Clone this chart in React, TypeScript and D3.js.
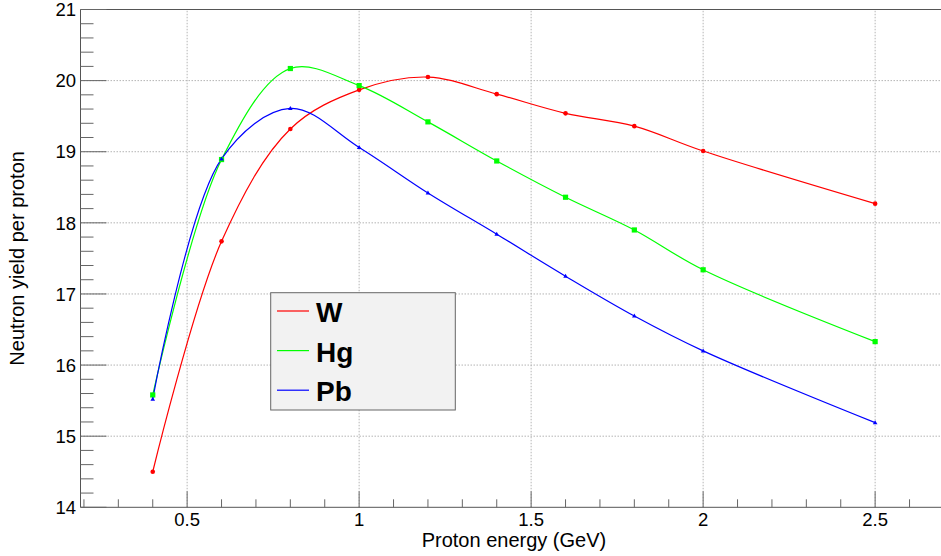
import React from "react";
import * as d3 from "d3";

const energies = [0.4, 0.6, 0.8, 1.0, 1.2, 1.4, 1.6, 1.8, 2.0, 2.5];
const yieldW = [14.5, 17.74, 19.32, 19.87, 20.05, 19.81, 19.54, 19.36, 19.01, 18.27];
const yieldHg = [15.58, 18.89, 20.17, 19.93, 19.42, 18.87, 18.36, 17.9, 17.34, 16.33];
const yieldPb = [15.52, 18.9, 19.61, 19.06, 18.42, 17.84, 17.25, 16.69, 16.2, 15.19];
const seriesNames = ["W", "Hg", "Pb"];
const seriesColors = ["#ff0000", "#00ff00", "#0000ff"];
const xTickLabels = ["0.5", "1", "1.5", "2", "2.5"];
const yTickLabels = ["14", "15", "16", "17", "18", "19", "20", "21"];

const W = 941;
const H = 556;
const left = 80.5;
const top = 9.5;
const bottom = 507.3;
const xDomain: [number, number] = [0.19, 2.71];
const plotRight = left + (xDomain[1] - xDomain[0]) * 344;

export default function App() {
  const x = d3.scaleLinear().domain(xDomain).range([left, plotRight]);
  const y = d3.scaleLinear().domain([14, 21]).range([bottom, top]);
  const series = [yieldW, yieldHg, yieldPb];
  const line = d3
    .line<[number, number]>()
    .x((d) => x(d[0]))
    .y((d) => y(d[1]))
    .curve(d3.curveCatmullRom.alpha(0.5));

  const xMajor = xTickLabels.map(Number);
  const xMinor = d3.range(2, 28).map((i) => i / 10).filter((v) => v >= xDomain[0] && v <= xDomain[1]);
  const yMajor = yTickLabels.map(Number);
  const yMinor = d3.range(70, 106).map((i) => i / 5).filter((v) => v >= 14 && v <= 21);
  const font = "'Liberation Sans', Arial, Helvetica, sans-serif";

  return (
    <svg width={W} height={H} style={{ position: "absolute", left: 0, top: 0 }}>
      <rect x={0} y={0} width={W} height={H} fill="#fff" />
      <g>
        {xMajor.map((v) => (
          <line key={"gx" + v} x1={x(v)} x2={x(v)} y1={bottom} y2={top} stroke="#b4b4b4" strokeDasharray="1.5,1.5" strokeWidth={1} />
        ))}
        {yMajor.filter((v) => v > 14 && v < 21).map((v) => (
          <line key={"gy" + v} x1={left} x2={plotRight} y1={y(v)} y2={y(v)} stroke="#b4b4b4" strokeDasharray="1.5,1.5" strokeWidth={1} />
        ))}
      </g>
      {/* frame */}
      <line x1={left} x2={plotRight} y1={top} y2={top} stroke="#555" strokeWidth={1} />
      <line x1={left} x2={left} y1={top} y2={bottom} stroke="#555" strokeWidth={1} />
      <line x1={left} x2={plotRight} y1={bottom} y2={bottom} stroke="#555" strokeWidth={1} />
      {/* ticks */}
      {xMinor.map((v) => {
        const major = xMajor.some((m) => Math.abs(m - v) < 1e-6);
        return (
          <line key={"tx" + v} x1={x(v)} x2={x(v)} y1={bottom} y2={bottom - (major ? 16 : 8)} stroke="#666" strokeWidth={1} />
        );
      })}
      {yMinor.map((v) => {
        const major = yMajor.some((m) => Math.abs(m - v) < 1e-6);
        return (
          <line key={"ty" + v} x1={left} x2={left + (major ? 26 : 13)} y1={y(v)} y2={y(v)} stroke="#666" strokeWidth={1} />
        );
      })}
      {/* tick labels */}
      {xTickLabels.map((t) => (
        <text key={"lx" + t} x={x(Number(t))} y={526} textAnchor="middle" fontFamily={font} fontSize={18.5} fill="#000">
          {t}
        </text>
      ))}
      {yTickLabels.map((t) => (
        <text key={"ly" + t} x={76} y={y(Number(t)) + 6.7} textAnchor="end" fontFamily={font} fontSize={18.5} fill="#000">
          {t}
        </text>
      ))}
      <text x={(left + plotRight) / 2} y={547} textAnchor="middle" fontFamily={font} fontSize={20} fill="#000">
        Proton energy (GeV)
      </text>
      <text
        transform={`translate(24,${(top + bottom) / 2}) rotate(-90)`}
        textAnchor="middle"
        fontFamily={font}
        fontSize={20}
        fill="#000"
      >
        Neutron yield per proton
      </text>
      {/* curves */}
      {series.map((vals, i) => {
        const pts = energies.map((e, j) => [e, vals[j]] as [number, number]);
        return (
          <path key={"s" + i} d={line(pts) || ""} fill="none" stroke={seriesColors[i]} strokeWidth={1.2} />
        );
      })}
      {/* markers */}
      {energies.map((e, j) => (
        <circle key={"mW" + j} cx={x(e)} cy={y(yieldW[j])} r={2.3} fill={seriesColors[0]} />
      ))}
      {energies.map((e, j) => (
        <rect key={"mHg" + j} x={x(e) - 2.6} y={y(yieldHg[j]) - 2.6} width={5.2} height={5.2} fill={seriesColors[1]} />
      ))}
      {energies.map((e, j) => {
        const cx = x(e);
        const cy = y(yieldPb[j]);
        return (
          <path key={"mPb" + j} d={`M${cx - 2.3},${cy + 1.6}L${cx + 2.3},${cy + 1.6}L${cx},${cy - 2.4}Z`} fill={seriesColors[2]} />
        );
      })}
      {/* legend */}
      <rect x={270.7} y={292.7} width={184.6} height={117.3} fill="#f2f2f2" stroke="#666" strokeWidth={1} />
      {seriesNames.map((n, i) => {
        const ly = 311 + i * 39.6;
        return (
          <g key={"lg" + n}>
            <line x1={277} x2={309} y1={ly} y2={ly} stroke={seriesColors[i]} strokeWidth={1.2} />
            <text x={316} y={ly + 11.2} fontFamily={font} fontWeight="bold" fontSize={28} fill="#000">
              {n}
            </text>
          </g>
        );
      })}
    </svg>
  );
}
